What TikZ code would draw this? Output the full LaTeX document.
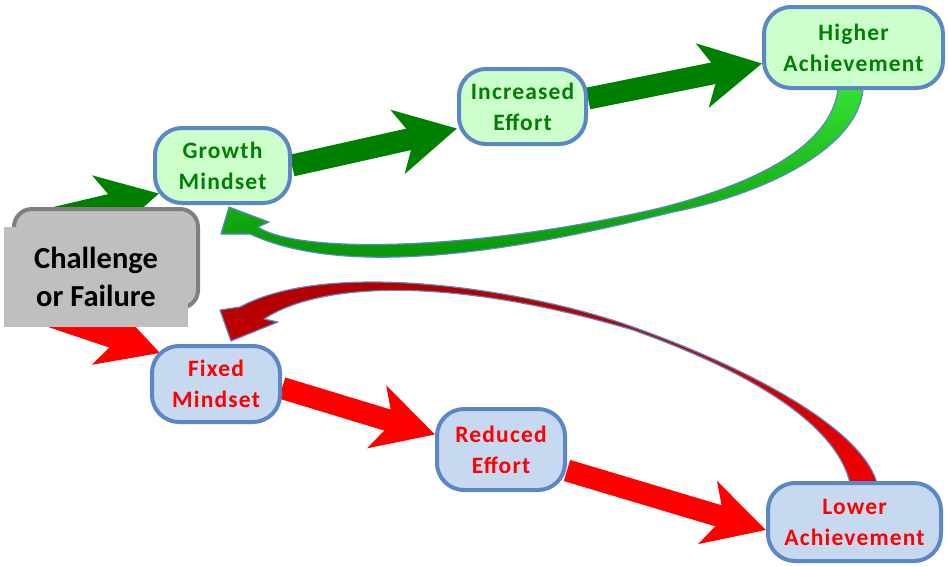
\documentclass[tikz,border=0pt]{standalone}
\usepackage{fontspec}
\setmainfont{Carlito}
\newfontfamily\boxfont[LetterSpace=5]{Carlito}
\usetikzlibrary{arrows.meta,calc}
\definecolor{bordblue}{HTML}{5B87C5}
\definecolor{lgreen}{HTML}{CCFFCC}
\definecolor{lblue}{HTML}{C6D9F1}
\definecolor{dgreen}{HTML}{008000}
\definecolor{arrgreen}{HTML}{008000}
\definecolor{arrred}{HTML}{FF0000}
\definecolor{cfgray}{HTML}{BFBFBF}
\definecolor{cfborder}{HTML}{7F7F7F}
\definecolor{gtop}{HTML}{33E033}
\definecolor{gbot}{HTML}{008A00}
\definecolor{rtop}{HTML}{A80000}
\definecolor{rbot}{HTML}{F00000}
\pgfdeclarelayer{bg}
\pgfsetlayers{bg,main}
\tikzset{
 box/.style={draw=bordblue, line width=4pt, rounded corners=27pt, align=center, inner sep=0pt,
   font=\boxfont\bfseries\fontsize{23.5}{31}\selectfont},
 upbox/.style={box, fill=lgreen, text=dgreen},
 downbox/.style={box, fill=lblue, text=red},
 fatarrow/.style={line width=22pt, -{Stealth[length=60pt,width=64pt,inset=16pt]}},
 garrow/.style={fatarrow, draw=arrgreen},
 rarrow/.style={fatarrow, draw=arrred},
 ribbon/.style={draw=bordblue, line width=1.2pt, line join=round}
}
\begin{document}
\begin{tikzpicture}[x=1pt,y=-1pt]
\useasboundingbox (0,0) rectangle (948,566);
% Challenge box
\node[draw=cfborder, fill=cfgray, line width=4pt, rounded corners=18pt,
      minimum width=184pt, minimum height=99pt] (cfb) at (106,258.5) {};
\node[fill=cfgray, minimum width=184pt, minimum height=100pt, inner sep=0pt, align=center,
      font=\bfseries\fontsize{30.5}{38}\selectfont] (cf) at (96,277) {Challenge\\or Failure};
% Growth path
\node[upbox, minimum width=135pt, minimum height=75pt] (gm) at (222.5,165.5) {Growth\\Mindset};
\node[upbox, minimum width=127pt, minimum height=75pt] (ie) at (522.5,106.5) {Increased\\Effort};
\node[upbox, minimum width=179pt, minimum height=81pt] (ha) at (853.5,47.5) {Higher\\Achievement};
% Fixed path
\node[downbox, minimum width=128pt, minimum height=76pt] (fm) at (216,384) {Fixed\\Mindset};
\node[downbox, minimum width=128pt, minimum height=81pt] (re) at (501,449.5) {Reduced\\Effort};
\node[downbox, minimum width=173pt, minimum height=78pt] (la) at (854.5,522) {Lower\\Achievement};
\begin{pgfonlayer}{bg}
\fill[white] (0,0) rectangle (948,566);
% green straight arrows
\draw[garrow] ($(cfb.north west)+(17,17)$) -- ($(gm.west)+(6,28)$);
\draw[garrow] (gm.east) -- ($(ie.west)+(0,22)$);
\draw[garrow] ($(ie.east)+(0,-8)$) -- ($(ha.west)+(0,16)$);
% red straight arrows
\draw[rarrow] ($(cf.south west)+(14,-22)$) -- ($(fm.north west)+(10,9)$);
\draw[rarrow] ($(fm.east)+(0,4)$) -- ($(re.west)+(0,-15)$);
\draw[rarrow] ($(re.east)+(0,21)$) -- ($(la.west)+(0,8)$);
% green return ribbon
\draw[ribbon, top color=gtop, bottom color=gbot]
  (863,89) .. controls (858,150) and (760,195) .. (673,212)
  .. controls (560,240) and (360,285) .. (250,234)
  -- (221,234) -- (229,207) -- (269,222) -- (258,227)
  .. controls (300,255) and (480,250) .. (660,208)
  .. controls (770,180) and (832,140) .. (838,89) -- cycle;
% red return ribbon
\draw[ribbon, top color=rtop, bottom color=rbot]
  (877,483) .. controls (860,425) and (740,365) .. (633,327)
  .. controls (530,290) and (330,258) .. (240,307)
  -- (220,310) -- (231,341) -- (278,322) -- (264,319)
  .. controls (320,282) and (450,276) .. (633,330)
  .. controls (740,368) and (835,420) .. (850,483) -- cycle;
\end{pgfonlayer}
\end{tikzpicture}
\end{document}
